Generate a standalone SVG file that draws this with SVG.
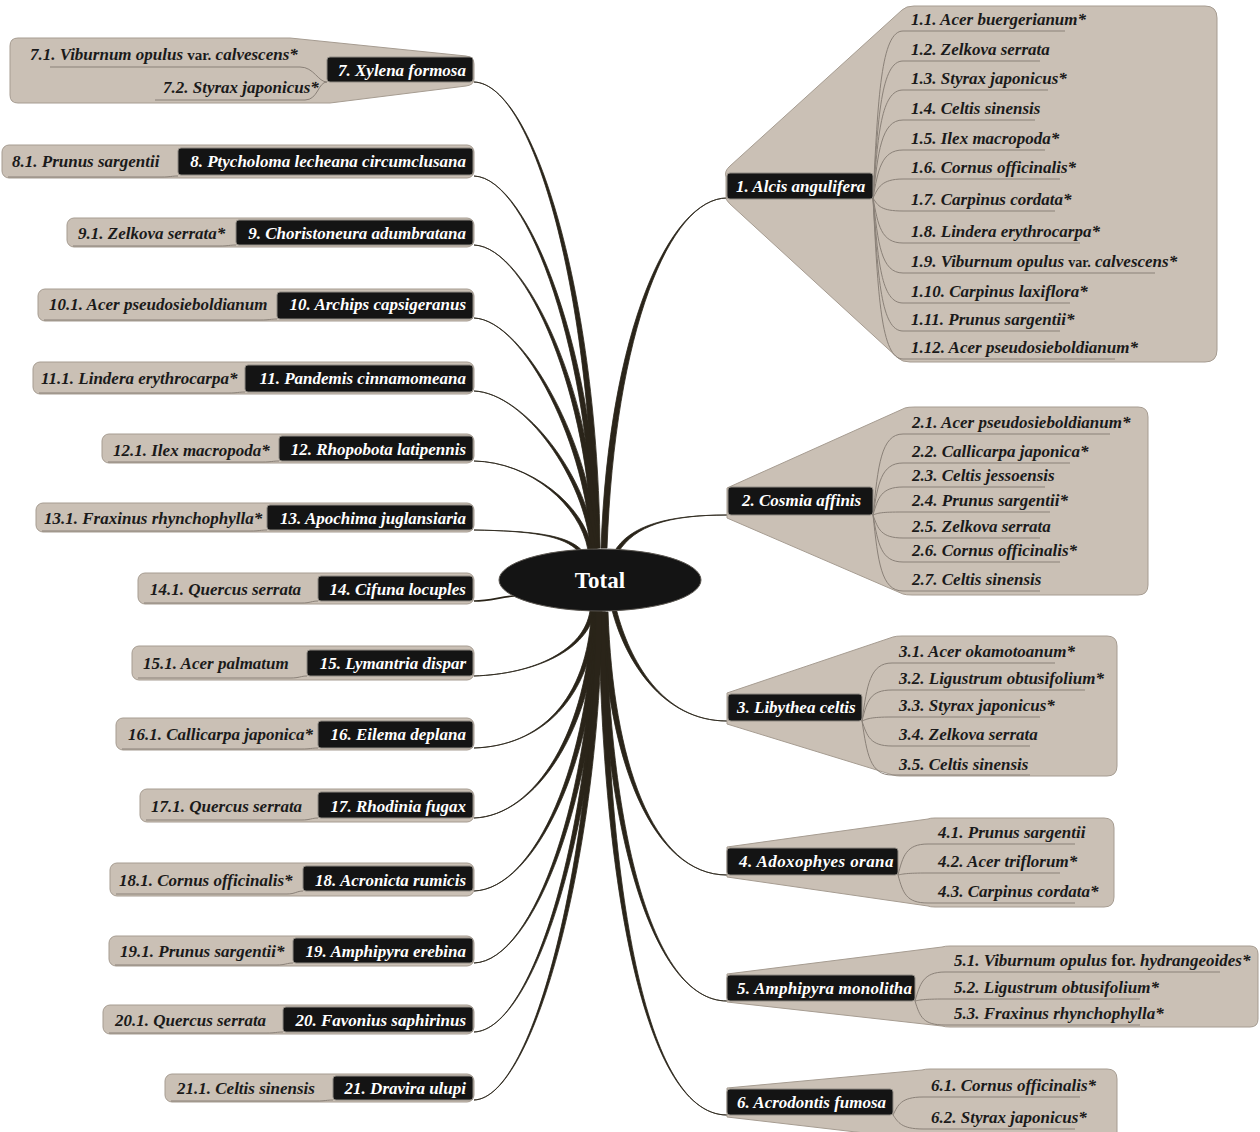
<svg xmlns="http://www.w3.org/2000/svg" width="1260" height="1132" viewBox="0 0 1260 1132">
<style>
.bg{fill:#cac0b5;stroke:#a69c91;stroke-width:1}
.bx{fill:#141414;stroke:#8f8a83;stroke-width:1}
.t{font-family:"Liberation Serif","Times New Roman",serif;font-style:italic;font-weight:bold;font-size:17px;fill:#1a1a1a}
.w{fill:#ffffff}
.n{font-style:normal}
.sub{fill:none;stroke:#8a8178;stroke-width:1}
.cn{fill:#2a2419;stroke:#2a2419;stroke-width:0.8}
.cs{fill:none;stroke:#2a2419;stroke-width:1.6}
</style>
<rect width="1260" height="1132" fill="#ffffff"/>
<g id="connectors">
<path class="cn" d="M474,82 C535,84 592,300 594,548 L600,548 C598,300 535,84 474,82 Z"/>
<path class="cn" d="M474,176 C530,178 591,360 593,548 L599,548 C597,360 530,178 474,176 Z"/>
<path class="cn" d="M474,245 C528,247 590,400 592,548 L598,548 C596,400 528,247 474,245 Z"/>
<path class="cn" d="M474,318 C525,320 588,450 591,549 L597,549 C594,450 525,320 474,318 Z"/>
<path class="cn" d="M474,391 C525,393 585.5,480 590.5,549 L595.5,549 C590.5,480 525,393 474,391 Z"/>
<path class="cn" d="M474,461 C530,462 580,505 588,550 L592.5,550 C584.5,505 530,462 474,461 Z"/>
<path class="cn" d="M474,530 C530,531 564,535 579,552 L582.5,551 C567.5,534 530,531 474,530 Z"/>
<path class="cs" d="M474,601 C490,601 500,597 514,596"/>
<path class="cn" d="M727,198 C670,198 609,330 601,548 L607,548 C615,330 670,198 727,198 Z"/>
<path class="cn" d="M727,515 C668,515 630,525 614,552 L618.5,552 C634.5,526 668,515 727,515 Z"/>
<path class="cn" d="M727,721 C662,721 625,660 612,610 L616.5,610 C629.5,660 662,721 727,721 Z"/>
<path class="cn" d="M727,875 C652,875 607,760 602,612 L608,612 C613,760 652,875 727,875 Z"/>
<path class="cn" d="M727,1001 C650,1001 603,820 600,612 L606,612 C609,820 650,1001 727,1001 Z"/>
<path class="cn" d="M727,1115 C640,1115 601,860 599,612 L605,612 C607,860 640,1115 727,1115 Z"/>
<path class="cn" d="M474,676 C535,674 584,650 590,611 L594.5,611 C588.5,650 535,674 474,676 Z"/>
<path class="cn" d="M474,748 C540,746 587.5,700 591.5,611 L596.5,611 C592.5,700 540,746 474,748 Z"/>
<path class="cn" d="M474,818 C535,816 589,730 592,611 L598,611 C595,730 535,816 474,818 Z"/>
<path class="cn" d="M474,891 C535,889 591,760 593,611 L599,611 C597,760 535,889 474,891 Z"/>
<path class="cn" d="M474,963 C535,961 592,790 594,611 L600,611 C598,790 535,961 474,963 Z"/>
<path class="cn" d="M474,1032 C535,1030 593,820 595,611 L601,611 C599,820 535,1030 474,1032 Z"/>
<path class="cn" d="M474,1100 C535,1098 594,850 596,611 L602,611 C600,850 535,1098 474,1100 Z"/>
</g>

<g id="n1">
<path class="bg" d="M726,177 Q724,171 730,166 L902,10 Q906,6 914,6 L1205,6 Q1217,6 1217,18 L1217,350 Q1217,362 1205,362 L910,362 Q902,362 898,358 L730,204 Q725,200 726,195 Z"/>
<path class="sub" d="M873,198 C878,98 881,31 903,31 L1065,31"/>
<path class="sub" d="M873,198 C878,118 881,61 903,61 L1040,61"/>
<path class="sub" d="M873,198 C878,135 881,90 903,90 L1048,90"/>
<path class="sub" d="M873,198 C878,153 881,120 903,120 L1035,120"/>
<path class="sub" d="M873,198 C878,171 881,150 903,150 L1045,150"/>
<path class="sub" d="M873,198 C878,188 881,179 903,179 L1060,179"/>
<path class="sub" d="M873,198 C878,206 881,211 903,211 L1055,211"/>
<path class="sub" d="M873,198 C878,225 881,243 903,243 L1080,243"/>
<path class="sub" d="M873,198 C878,243 881,273 903,273 L1155,273"/>
<path class="sub" d="M873,198 C878,261 881,303 903,303 L1070,303"/>
<path class="sub" d="M873,198 C878,278 881,331 903,331 L1060,331"/>
<path class="sub" d="M873,198 C878,295 881,359 903,359 L1115,359"/>
<rect class="bx" x="727" y="173" width="146" height="26" rx="3"/>
<text class="t w" x="736" y="192">1. Alcis angulifera</text>
<text class="t" x="911" y="25">1.1. Acer buergerianum*</text>
<text class="t" x="911" y="55">1.2. Zelkova serrata</text>
<text class="t" x="911" y="84">1.3. Styrax japonicus*</text>
<text class="t" x="911" y="114">1.4. Celtis sinensis</text>
<text class="t" x="911" y="144">1.5. Ilex macropoda*</text>
<text class="t" x="911" y="173">1.6. Cornus officinalis*</text>
<text class="t" x="911" y="205">1.7. Carpinus cordata*</text>
<text class="t" x="911" y="237">1.8. Lindera erythrocarpa*</text>
<text class="t" x="911" y="267">1.9. Viburnum opulus <tspan class="n" font-size="14">var.</tspan> calvescens*</text>
<text class="t" x="911" y="297">1.10. Carpinus laxiflora*</text>
<text class="t" x="911" y="325">1.11. Prunus sargentii*</text>
<text class="t" x="911" y="353">1.12. Acer pseudosieboldianum*</text>
</g>

<g id="n2">
<path class="bg" d="M727,488 L905,408 Q908,407 915,407 L1138,407 Q1148,407 1148,417 L1148,585 Q1148,595 1138,595 L912,595 Q906,595 903,594 L727,518 Z"/>
<path class="sub" d="M873,515 C878,466 881,434 903,434 L1110,434"/>
<path class="sub" d="M873,515 C878,484 881,463 903,463 L1070,463"/>
<path class="sub" d="M873,515 C878,498 881,487 903,487 L1045,487"/>
<path class="sub" d="M873,515 C878,513 881,512 903,512 L1050,512"/>
<path class="sub" d="M873,515 C878,529 881,538 903,538 L1040,538"/>
<path class="sub" d="M873,515 C878,544 881,562 903,562 L1060,562"/>
<path class="sub" d="M873,515 C878,561 881,591 903,591 L1040,591"/>
<rect class="bx" x="728" y="487" width="145" height="28" rx="3"/>
<text class="t w" x="742" y="506">2. Cosmia affinis</text>
<text class="t" x="912" y="428">2.1. Acer pseudosieboldianum*</text>
<text class="t" x="912" y="457">2.2. Callicarpa japonica*</text>
<text class="t" x="912" y="481">2.3. Celtis jessoensis</text>
<text class="t" x="912" y="506">2.4. Prunus sargentii*</text>
<text class="t" x="912" y="532">2.5. Zelkova serrata</text>
<text class="t" x="912" y="556">2.6. Cornus officinalis*</text>
<text class="t" x="912" y="585">2.7. Celtis sinensis</text>
</g>

<g id="n3">
<path class="bg" d="M727,693 L893,637 Q896,636 902,636 L1107,636 Q1117,636 1117,646 L1117,766 Q1117,776 1107,776 L900,776 Q896,776 893,775 L727,724 Z"/>
<path class="sub" d="M862,721 C867,685 870,663 892,663 L1055,663"/>
<path class="sub" d="M862,721 C867,701 870,690 892,690 L1085,690"/>
<path class="sub" d="M862,721 C867,719 870,717 892,717 L1040,717" stroke="#3a342c"/>
<path class="sub" d="M862,721 C867,736 870,746 892,746 L1030,746" stroke="#3a342c"/>
<path class="sub" d="M862,721 C867,754 870,775 892,775 L1030,775"/>
<rect class="bx" x="728" y="694" width="134" height="27" rx="3"/>
<text class="t w" x="737" y="713">3. Libythea celtis</text>
<text class="t" x="899" y="657">3.1. Acer okamotoanum*</text>
<text class="t" x="899" y="684">3.2. Ligustrum obtusifolium*</text>
<text class="t" x="899" y="711">3.3. Styrax japonicus*</text>
<text class="t" x="899" y="740">3.4. Zelkova serrata</text>
<text class="t" x="899" y="770">3.5. Celtis sinensis</text>
</g>

<g id="n4">
<path class="bg" d="M727,847 L928,819 Q930,818 935,818 L1104,818 Q1114,818 1114,828 L1114,897 Q1114,907 1104,907 L935,907 Q930,907 928,906 L727,877 Z"/>
<path class="sub" d="M898,875 C903,856 906,844 928,844 L1075,844" stroke="#3a342c"/>
<path class="sub" d="M898,875 C903,874 906,873 928,873 L1060,873" stroke="#3a342c"/>
<path class="sub" d="M898,875 C903,893 906,903 928,903 L1075,903"/>
<rect class="bx" x="727" y="848" width="171" height="27" rx="3"/>
<text class="t w" x="739" y="867" letter-spacing="0.4">4. Adoxophyes orana</text>
<text class="t" x="938" y="838">4.1. Prunus sargentii</text>
<text class="t" x="938" y="867">4.2. Acer triflorum*</text>
<text class="t" x="938" y="897">4.3. Carpinus cordata*</text>
</g>

<g id="n5">
<path class="bg" d="M727,974 L942,947 Q945,946 950,946 L1250,946 Q1258,946 1258,954 L1258,1019 Q1258,1027 1250,1027 L950,1027 Q945,1027 942,1026 L727,1002 Z"/>
<path class="sub" d="M915,1001 C920,984 923,972 945,972 L1220,972" stroke="#3a342c"/>
<path class="sub" d="M915,1001 C920,1000 923,999 945,999 L1140,999"/>
<path class="sub" d="M915,1001 C920,1017 923,1025 945,1025 L1140,1025"/>
<rect class="bx" x="727" y="975" width="188" height="26" rx="3"/>
<text class="t w" x="737" y="994" letter-spacing="0.2">5. Amphipyra monolitha</text>
<text class="t" x="954" y="966">5.1. Viburnum opulus <tspan class="n">for.</tspan> hydrangeoides*</text>
<text class="t" x="954" y="993">5.2. Ligustrum obtusifolium*</text>
<text class="t" x="954" y="1019">5.3. Fraxinus rhynchophylla*</text>
</g>

<g id="n6">
<path class="bg" d="M727,1088 L922,1070 Q925,1069 930,1069 L1107,1069 Q1117,1069 1117,1079 L1117,1140 L925,1140 L727,1117 Z"/>
<path class="sub" d="M893,1115 C898,1105 901,1097 923,1097 L1080,1097"/>
<path class="sub" d="M893,1115 C898,1122 901,1129 923,1129 L1075,1129"/>
<rect class="bx" x="727" y="1089" width="166" height="26" rx="3"/>
<text class="t w" x="737" y="1108">6. Acrodontis fumosa</text>
<text class="t" x="931" y="1091">6.1. Cornus officinalis*</text>
<text class="t" x="931" y="1123">6.2. Styrax japonicus*</text>
</g>

<g id="n7">
<path class="bg" d="M18,38 L290,38 L466,56 Q474,57 474,64 L474,79 Q474,85 466,86 L330,103 L18,103 Q10,103 10,95 L10,46 Q10,38 18,38 Z"/>
<path class="sub" d="M327,82 C318,82 314,67 300,67 L50,67"/>
<path class="sub" d="M327,82 C318,82 318,100 305,100 L155,100"/>
<rect class="bx" x="327" y="57" width="146" height="25" rx="3"/>
<text class="t w" x="466" y="76" text-anchor="end">7. Xylena formosa</text>
<text class="t" x="30" y="60">7.1. Viburnum opulus <tspan class="n" font-size="15">var.</tspan> calvescens*</text>
<text class="t" x="163" y="93">7.2. Styrax japonicus*</text>
</g>

<g id="n8">
<rect class="bg" x="2" y="145" width="472" height="33" rx="7"/>
<path class="sub" d="M178,176 C172,176 170,177 162,177 L8,177"/>
<rect class="bx" x="178" y="148" width="295" height="27" rx="3"/>
<text class="t w" x="466" y="167" text-anchor="end">8. Ptycholoma lecheana circumclusana</text>
<text class="t" x="12" y="167">8.1. Prunus sargentii</text>
</g>

<g id="n9">
<rect class="bg" x="67" y="218" width="407" height="29" rx="7"/>
<path class="sub" d="M236,245 C230,245 228,246 220,246 L73,246"/>
<rect class="bx" x="236" y="220" width="237" height="25" rx="3"/>
<text class="t w" x="466" y="239" text-anchor="end">9. Choristoneura adumbratana</text>
<text class="t" x="78" y="239">9.1. Zelkova serrata*</text>
</g>

<g id="n10">
<rect class="bg" x="38" y="289" width="436" height="32" rx="7"/>
<path class="sub" d="M277,319 C271,319 269,320 261,320 L44,320"/>
<rect class="bx" x="277" y="292" width="196" height="27" rx="3"/>
<text class="t w" x="466" y="310" text-anchor="end">10. Archips capsigeranus</text>
<text class="t" x="49" y="310">10.1. Acer pseudosieboldianum</text>
</g>

<g id="n11">
<rect class="bg" x="33" y="362" width="441" height="32" rx="7"/>
<path class="sub" d="M245,392 C239,392 237,393 229,393 L39,393"/>
<rect class="bx" x="245" y="365" width="228" height="27" rx="3"/>
<text class="t w" x="466" y="384" text-anchor="end">11. Pandemis cinnamomeana</text>
<text class="t" x="41" y="384">11.1. Lindera erythrocarpa*</text>
</g>

<g id="n12">
<rect class="bg" x="102" y="434" width="372" height="29" rx="7"/>
<path class="sub" d="M279,461 C273,461 271,462 263,462 L108,462"/>
<rect class="bx" x="279" y="436" width="194" height="25" rx="3"/>
<text class="t w" x="466" y="455" text-anchor="end">12. Rhopobota latipennis</text>
<text class="t" x="113" y="456">12.1. Ilex macropoda*</text>
</g>

<g id="n13">
<rect class="bg" x="36" y="503" width="438" height="29" rx="7"/>
<path class="sub" d="M267,530 C261,530 259,531 251,531 L42,531"/>
<rect class="bx" x="267" y="505" width="206" height="25" rx="3"/>
<text class="t w" x="466" y="524" text-anchor="end">13. Apochima juglansiaria</text>
<text class="t" x="44" y="524">13.1. Fraxinus rhynchophylla*</text>
</g>

<g id="n14">
<rect class="bg" x="138" y="573" width="336" height="31" rx="7"/>
<path class="sub" d="M318,601 C312,601 310,603 302,603 L144,603"/>
<rect class="bx" x="318" y="576" width="155" height="25" rx="3"/>
<text class="t w" x="466" y="595" text-anchor="end">14. Cifuna locuples</text>
<text class="t" x="150" y="595">14.1. Quercus serrata</text>
</g>

<g id="n15">
<rect class="bg" x="132" y="646" width="342" height="34" rx="7"/>
<path class="sub" d="M307,676 C301,676 299,678 291,678 L138,678"/>
<rect class="bx" x="307" y="650" width="166" height="26" rx="3"/>
<text class="t w" x="466" y="669" text-anchor="end">15. Lymantria dispar</text>
<text class="t" x="143" y="669">15.1. Acer palmatum</text>
</g>

<g id="n16">
<rect class="bg" x="116" y="718" width="358" height="32" rx="7"/>
<path class="sub" d="M318,748 C312,748 310,749 302,749 L122,749"/>
<rect class="bx" x="318" y="721" width="155" height="27" rx="3"/>
<text class="t w" x="466" y="740" text-anchor="end">16. Eilema deplana</text>
<text class="t" x="128" y="740">16.1. Callicarpa japonica*</text>
</g>

<g id="n17">
<rect class="bg" x="140" y="789" width="334" height="33" rx="7"/>
<path class="sub" d="M318,818 C312,818 310,820 302,820 L146,820"/>
<rect class="bx" x="318" y="792" width="155" height="26" rx="3"/>
<text class="t w" x="466" y="812" text-anchor="end">17. Rhodinia fugax</text>
<text class="t" x="151" y="812">17.1. Quercus serrata</text>
</g>

<g id="n18">
<rect class="bg" x="110" y="863" width="364" height="33" rx="7"/>
<path class="sub" d="M303,891 C297,891 295,894 287,894 L116,894"/>
<rect class="bx" x="303" y="866" width="170" height="25" rx="3"/>
<text class="t w" x="466" y="886" text-anchor="end">18. Acronicta rumicis</text>
<text class="t" x="119" y="886">18.1. Cornus officinalis*</text>
</g>

<g id="n19">
<rect class="bg" x="109" y="936" width="365" height="30" rx="7"/>
<path class="sub" d="M293,963 C287,963 285,965 277,965 L115,965"/>
<rect class="bx" x="293" y="938" width="180" height="25" rx="3"/>
<text class="t w" x="466" y="957" text-anchor="end">19. Amphipyra erebina</text>
<text class="t" x="120" y="957">19.1. Prunus sargentii*</text>
</g>

<g id="n20">
<rect class="bg" x="103" y="1005" width="371" height="29" rx="7"/>
<path class="sub" d="M283,1032 C277,1032 275,1033 267,1033 L109,1033"/>
<rect class="bx" x="283" y="1007" width="190" height="25" rx="3"/>
<text class="t w" x="466" y="1026" text-anchor="end">20. Favonius saphirinus</text>
<text class="t" x="115" y="1026">20.1. Quercus serrata</text>
</g>

<g id="n21">
<rect class="bg" x="165" y="1074" width="309" height="28" rx="7"/>
<path class="sub" d="M333,1100 C327,1100 325,1101 317,1101 L171,1101"/>
<rect class="bx" x="333" y="1076" width="140" height="24" rx="3"/>
<text class="t w" x="466" y="1094" text-anchor="end">21. Dravira ulupi</text>
<text class="t" x="177" y="1094">21.1. Celtis sinensis</text>
</g>

<g id="total">
<ellipse cx="600" cy="580" rx="101" ry="31" fill="#141414" stroke="#5a5650" stroke-width="1"/>
<text x="600" y="588" text-anchor="middle" font-family="'Liberation Serif','Times New Roman',serif" font-weight="bold" font-size="23" fill="#ffffff">Total</text>
</g>
</svg>
